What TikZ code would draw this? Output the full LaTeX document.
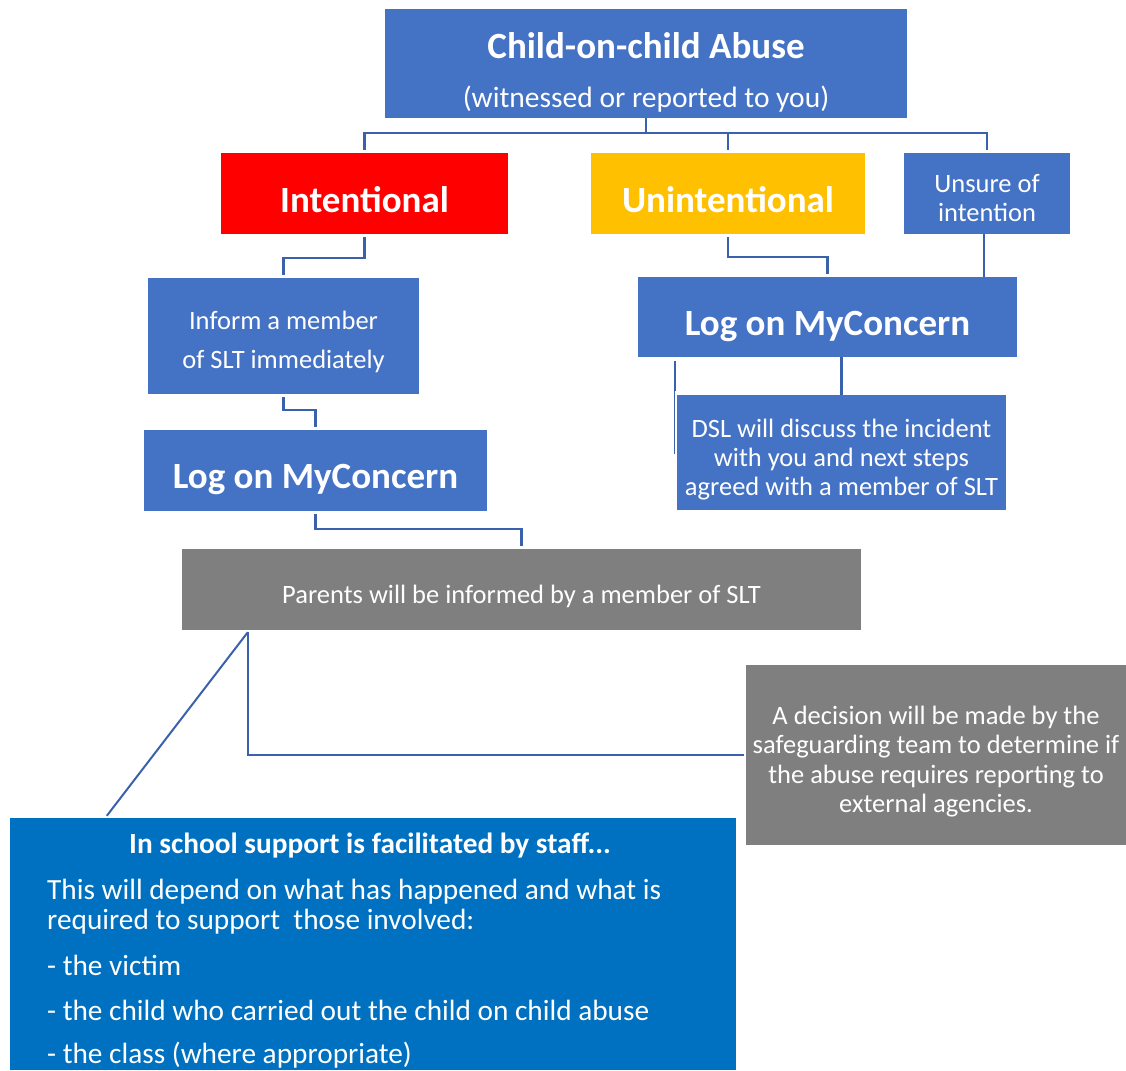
\documentclass[tikz,border=0pt]{standalone}
\usepackage{fontspec}
\setmainfont{Carlito}
\definecolor{boxblue}{HTML}{4472C4}
\definecolor{linkblue}{HTML}{3A62AC}
\definecolor{amber}{HTML}{FFC000}
\definecolor{slate}{HTML}{7F7F7F}
\definecolor{deepblue}{HTML}{0070C0}
\tikzset{
  box/.style={inner sep=0pt, fill=boxblue},
  head/.style={text=white, anchor=base, inner sep=0pt, font=\fontsize{37}{44}\selectfont\bfseries},
  say/.style={text=white, anchor=base, inner sep=0pt, font=\fontsize{26.5}{32}\selectfont},
  link/.style={draw=linkblue, line width=2.5pt},
}
\begin{document}
\begin{tikzpicture}[x=1pt,y=-1pt]
\useasboundingbox (0,0) rectangle (1126,1070);

% boxes
\node[box, minimum width=522pt, minimum height=109pt] (abuse) at (646,63.5) {};
\node[box, fill=red, minimum width=287pt, minimum height=81pt] (intent) at (364.5,193.5) {};
\node[box, fill=amber, minimum width=274pt, minimum height=81pt] (unintent) at (728,193.5) {};
\node[box, minimum width=166pt, minimum height=81pt] (unsure) at (987,193.5) {};
\node[box, minimum width=271pt, minimum height=116pt] (inform) at (283.5,336) {};
\node[box, minimum width=343pt, minimum height=81pt] (logleft) at (315.5,470.5) {};
\node[box, minimum width=379pt, minimum height=80pt] (logright) at (827.5,317) {};
\node[box, minimum width=329pt, minimum height=115pt] (dsl) at (841.5,452.5) {};
\node[box, fill=slate, minimum width=679pt, minimum height=81pt] (parents) at (521.5,589.5) {};
\node[box, fill=slate, minimum width=380pt, minimum height=180pt] (decision) at (936,755) {};
\node[box, fill=deepblue, minimum width=726pt, minimum height=252pt] (support) at (373,944) {};

% texts
\node[head] (abusetitle) at (646,59) {Child-on-child Abuse};
\node[say, font=\fontsize{29.5}{35}\selectfont] (abusesub) at (646,107) {(witnessed or reported to you)};
\node[head] (intenttext) at (364.5,212) {Intentional};
\node[head] (unintenttext) at (728,212) {Unintentional};
\node[say] (unsure1) at (987,192.5) {Unsure of};
\node[say] (unsure2) at (987,221.5) {intention};
\node[say] (inform1) at (283.5,329) {Inform a member};
\node[say] (inform2) at (283.5,368) {of SLT immediately};
\node[head] (logtextl) at (315.5,488) {Log on MyConcern};
\node[head] (logtextr) at (827.5,335) {Log on MyConcern};
\foreach \y/\t [count=\i] in {437/DSL will discuss the incident,
    466/with you and next steps, 495/agreed with a member of SLT}
  \node[say] (dsl\i) at (841.5,\y) {\t};
\node[say] (parentstext) at (521.5,603) {Parents will be informed by a member of SLT};
\foreach \y/\t [count=\i] in {724/A decision will be made by the,
    753.5/safeguarding team to determine if,
    783/the abuse requires reporting to, 812/external agencies.}
  \node[say] (decision\i) at (936,\y) {\t};
\node[head, font=\fontsize{29.3}{35}\selectfont\bfseries] (supporttitle) at (370,853) {In school support is facilitated by staff...};
\foreach \y/\t [count=\i] in {899/This will depend on what has happened and what is,
    929.5/required to support\ \ those involved:, 975/- the victim,
    1020/- the child who carried out the child on child abuse,
    1063/- the class (where appropriate)}
  \node[say, anchor=base west, font=\fontsize{29.3}{35}\selectfont] (support\i) at (47,\y) {\t};

% connectors
\draw[link] (abuse.south) -- ++(0,15) coordinate (split);
\draw[link] ([yshift=3pt]intent.north) |- (split) -| ([yshift=3pt]unsure.north);
\draw[link] ([yshift=3pt]unintent.north) -- (unintent.north |- split);
\draw[link] ([yshift=-3pt]intent.south) -- ++(0,21) -| ([yshift=3pt]inform.north);
\draw[link] ([yshift=-3pt]inform.south) -- ++(0,13) -| ([yshift=3pt]logleft.north);
\draw[link] ([yshift=-3pt]logleft.south) -- ++(0,15) -| ([yshift=3pt]parents.north);
\draw[link] ([yshift=-3pt]unintent.south) -- ++(0,20) -| ([yshift=3pt]logright.north);
\draw[link] ([xshift=-3pt]unsure.south) coordinate (u) -- (u |- logright.north);
\draw[link] (logright.south -| dsl.north) -- (dsl.north);
\draw[link] ([xshift=37pt,yshift=-4pt]logright.south west) coordinate (s) -- ++(0,30) coordinate (t);
\draw[linkblue, line width=1pt] (t) -- ++(0,63);
\draw[link] ([xshift=66pt,yshift=-2pt]parents.south west) coordinate (p) |- ([xshift=-2pt]decision.west);
\draw[link, line width=2pt] (p) -- ([xshift=97pt,yshift=2pt]support.north west);

\end{tikzpicture}
\end{document}
